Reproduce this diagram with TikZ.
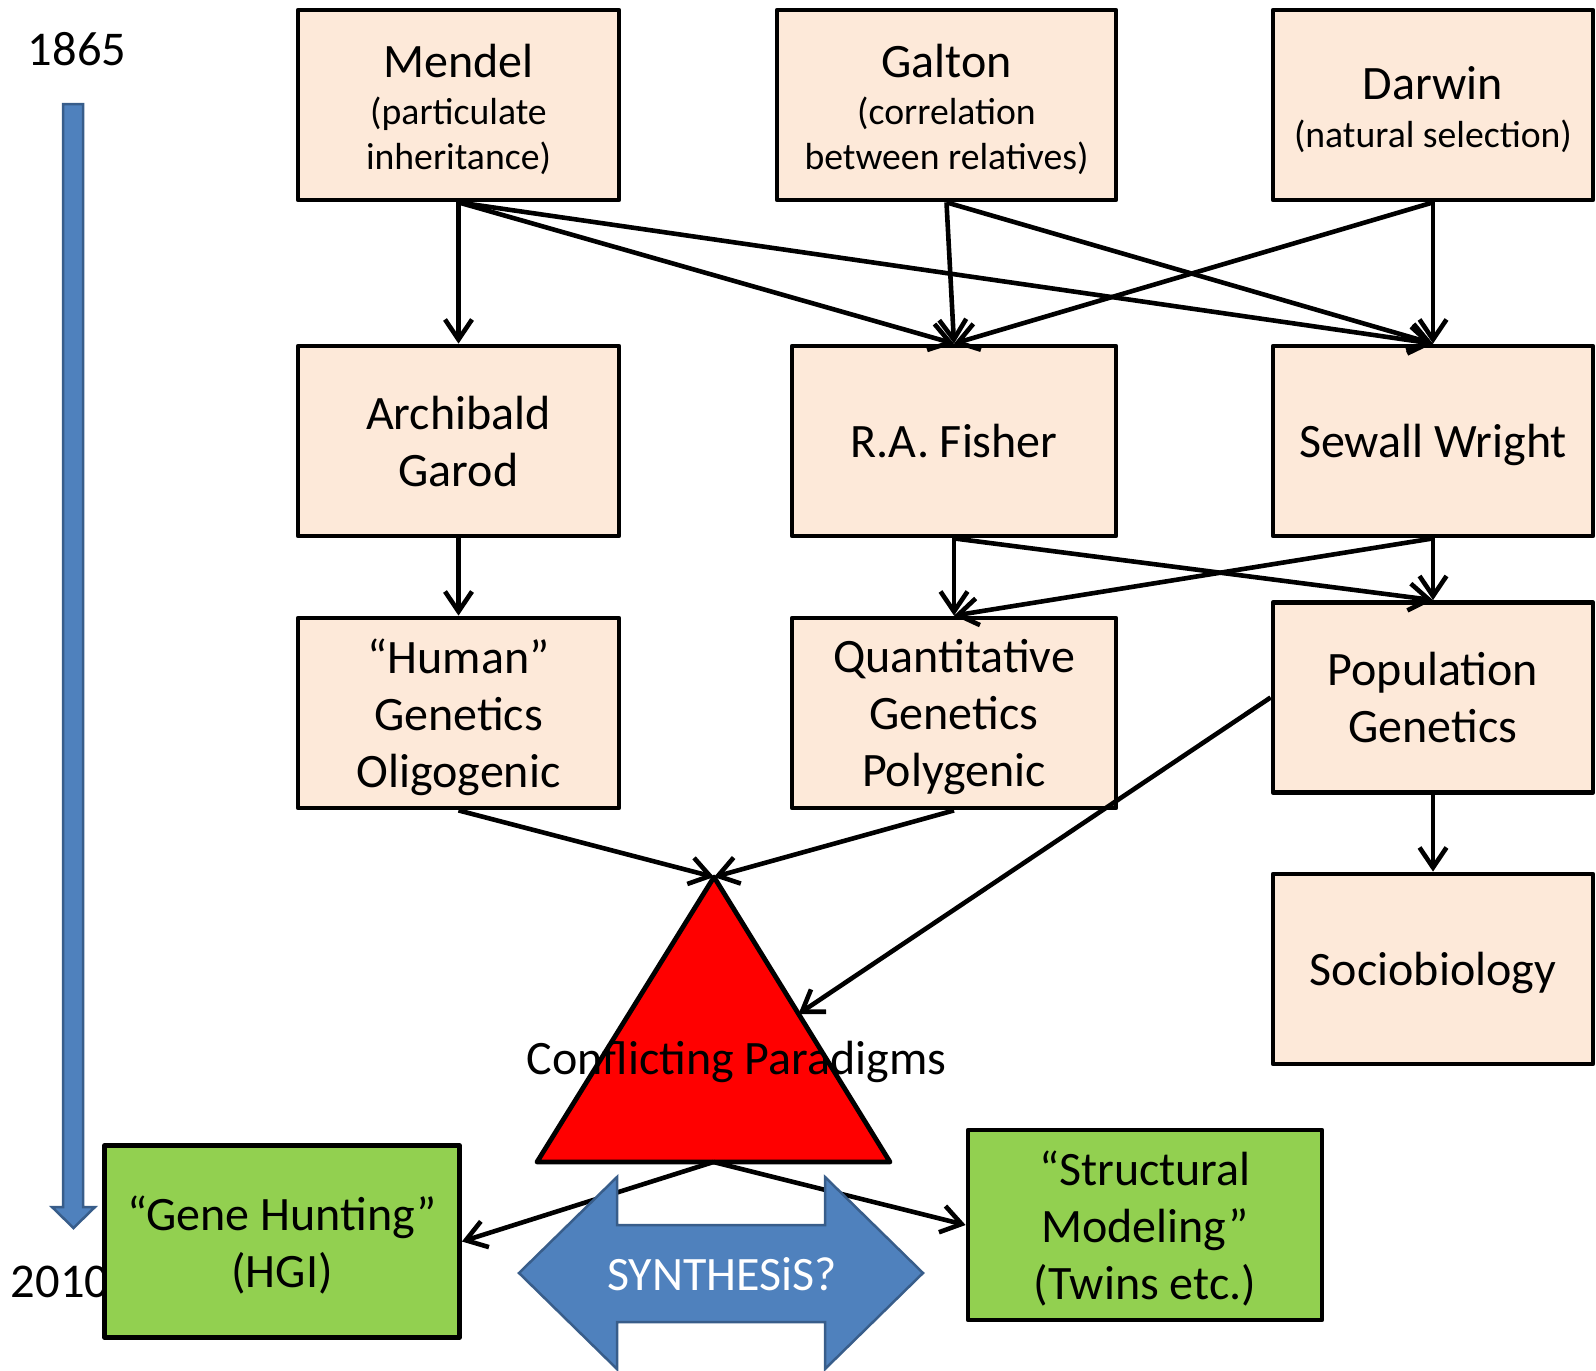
\documentclass[tikz,border=0pt]{standalone}
\usepackage{fontspec}
\setmainfont{Carlito}
\usetikzlibrary{arrows.meta}
\definecolor{peach}{RGB}{253,233,217}
\definecolor{leaf}{RGB}{146,208,80}
\definecolor{steel}{RGB}{79,129,189}
\definecolor{steeledge}{RGB}{56,93,138}
\newcommand{\bigtxt}{\fontsize{48}{57}\selectfont}
\newcommand{\subtxt}{\fontsize{37.7}{43}\selectfont}
\newcommand{\yeartxt}{\fontsize{48.5}{56}\selectfont}

\begin{document}
\begin{tikzpicture}[x=1pt,y=-1pt,
  box/.style={draw=black, line width=4.8pt, fill=peach, align=center, font=\bigtxt,
              inner sep=0pt, text depth=0pt, line join=round, minimum height=190pt},
  greenbox/.style={box, fill=leaf},
  link/.style={draw=black, line width=4.6pt, -{Straight Barb[length=20pt,width=27pt]}},
  label/.style={inner sep=0pt, anchor=base},
  bluearrow/.style={fill=steel, draw=steeledge, line width=2.5pt, line join=miter},
]
\useasboundingbox (0,0) rectangle (1596,1371);

% time line
\node[label, font=\yeartxt] (yr1865) at (77,65) {1865};
\node[label, font=\yeartxt] (yr2010) at (60,1297) {2010};
\filldraw[bluearrow] (63,104) -- (83,104) -- (83,1207) -- (95,1207) -- (73.5,1228)
  -- (52,1207) -- (63,1207) -- cycle;

% founders
\node[box, minimum width=321pt] (mendel) at (458.5,105) {};
\node[label, font=\bigtxt] (mendelA) at (458.5,77) {Mendel};
\node[label, font=\subtxt] (mendelB) at (458.5,124) {(particulate};
\node[label, font=\subtxt] (mendelC) at (458.5,169) {inheritance)};

\node[box, minimum width=339pt] (galton) at (946.5,105) {};
\node[label, font=\bigtxt] (galtonA) at (946.5,77) {Galton};
\node[label, font=\subtxt] (galtonB) at (946.5,124) {(correlation};
\node[label, font=\subtxt] (galtonC) at (946.5,169) {between relatives)};

\node[box, minimum width=320pt] (darwin) at (1433,105) {};
\node[label, font=\bigtxt] (darwinA) at (1433,99) {Darwin};
\node[label, font=\subtxt] (darwinB) at (1433,147) {(natural selection)};

% second generation
\node[box, minimum width=321pt] (garod) at (458.5,441) {Archibald\\Garod};
\node[box, minimum width=324pt] (fisher) at (954,441) {R.A. Fisher};
\node[box, minimum width=320pt] (wright) at (1433,441) {Sewall Wright};

% fields
\node[box, minimum width=321pt] (human) at (458.5,713) {“Human”\\Genetics\\Oligogenic};
\node[box, minimum width=324pt] (quant) at (954,713) {Quantitative\\Genetics\\Polygenic};
\node[box, minimum width=320pt] (popgen) at (1433,697.5) {Population\\Genetics};
\node[box, minimum width=320pt] (socio) at (1433,969) {Sociobiology};

% present-day approaches
\node[greenbox, minimum width=355pt, minimum height=192pt] (hunt) at (282,1241.5) {“Gene Hunting”\\(HGI)};
\node[greenbox, minimum width=354pt] (sem) at (1145,1225) {“Structural\\Modeling”\\(Twins etc.)};

% conflicting paradigms
\coordinate (apex) at (714,877);
\coordinate (baseL) at (537,1162);
\coordinate (baseR) at (890,1162);
\coordinate (baseC) at (713.5,1162);
\coordinate (sideR) at (798.5,1014);
\filldraw[fill=red, draw=black, line width=4.8pt, line join=round] (apex) -- (baseR) -- (baseL) -- cycle;
\node[label, font=\bigtxt] (conflict) at (736.5,1074) {Conflicting Paradigms};

% influences
\draw[link] (mendel.south) -- (garod.north);
\draw[link] (mendel.south) -- (fisher.north);
\draw[link] (mendel.south) -- (wright.north);
\draw[link] (galton.south) -- (fisher.north);
\draw[link] (galton.south) -- (wright.north);
\draw[link] (darwin.south) -- (fisher.north);
\draw[link] (darwin.south) -- (wright.north);
\draw[link] (garod.south) -- (human.north);
\draw[link] (fisher.south) -- (quant.north);
\draw[link] (fisher.south) -- (popgen.north);
\draw[link] (wright.south) -- (quant.north);
\draw[link] (wright.south) -- (popgen.north);
\draw[link] (popgen.south) -- (socio.north);
\draw[link] (human.south) -- (apex);
\draw[link] (quant.south) -- (apex);
\draw[link] (popgen.west) -- (sideR);
\draw[link] (baseC) -- (hunt.east);
\draw[link] (baseC) -- (sem.west);

% synthesis
\filldraw[bluearrow] (519,1273) -- (617,1177) -- (617,1225) -- (825,1225) -- (825,1177)
  -- (923,1273) -- (825,1369) -- (825,1322) -- (617,1322) -- (617,1369) -- cycle;
\node[label, font=\fontsize{48}{56}\selectfont, text=white] (synth) at (722,1290) {SYNTHESiS?};
\end{tikzpicture}
\end{document}
